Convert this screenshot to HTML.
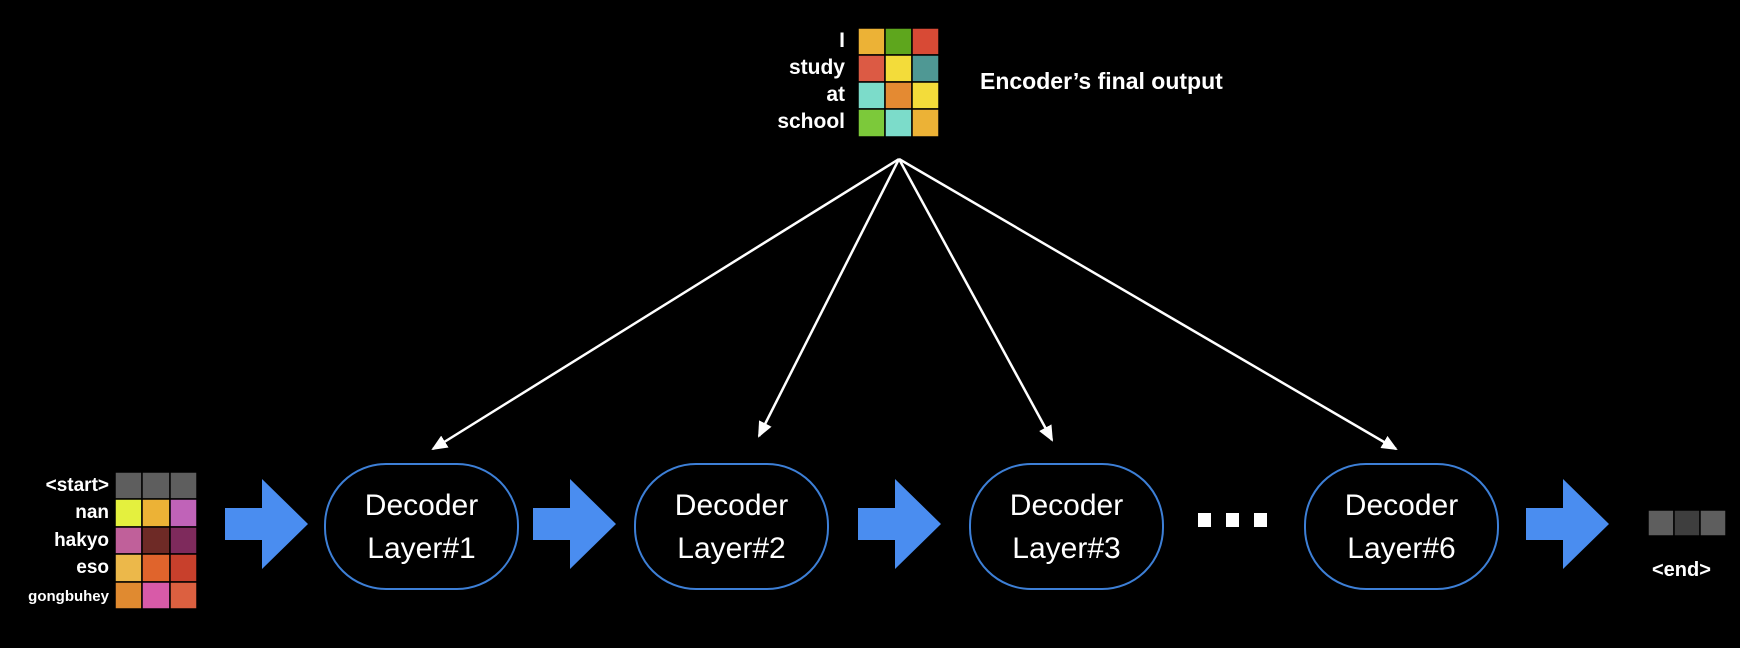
<!DOCTYPE html>
<html><head><style>
body{margin:0;background:#000;width:1740px;height:648px;overflow:hidden;position:relative;font-family:"Liberation Sans",sans-serif;color:#fff}
.l{position:absolute;font-weight:bold;text-align:right;white-space:nowrap}
.box{position:absolute;border:2.5px solid #3d7fd6;border-radius:62px;width:195px;height:127px;box-sizing:border-box;text-align:center;font-size:30px;line-height:43px;padding-top:19px}
</style></head><body>
<svg width="1740" height="648" style="position:absolute;left:0;top:0">
<defs><marker id="a" markerWidth="16" markerHeight="14" refX="14" refY="7" orient="auto" markerUnits="userSpaceOnUse"><path d="M0,0 L16,7 L0,14 z" fill="#fff"/></marker></defs>
<g stroke="#fff" stroke-width="2.5" marker-end="url(#a)">
<line x1="899" y1="159" x2="433" y2="449"/>
<line x1="899" y1="159" x2="759" y2="436"/>
<line x1="899" y1="159" x2="1052" y2="440"/>
<line x1="899" y1="159" x2="1396" y2="449"/>
</g>
<g fill="#4a8df0">
<path d="M225,508 H262 V479 L308,524 L262,569 V540 H225 Z"/>
<path d="M533,508 H570 V479 L616,524 L570,569 V540 H533 Z"/>
<path d="M858,508 H895 V479 L941,524 L895,569 V540 H858 Z"/>
<path d="M1526,508 H1563 V479 L1609,524 L1563,569 V540 H1526 Z"/>
</g>
<g fill="#fff"><rect x="1198" y="513" width="13" height="14"/><rect x="1226" y="513" width="13" height="14"/><rect x="1254" y="513" width="13" height="14"/></g>
<g stroke="#000" stroke-width="1.5">
<rect x="858" y="28" width="27" height="27" fill="#ecb236"/><rect x="885" y="28" width="27" height="27" fill="#5ea61d"/><rect x="912" y="28" width="27" height="27" fill="#d84a35"/>
<rect x="858" y="55" width="27" height="27" fill="#dc5a44"/><rect x="885" y="55" width="27" height="27" fill="#f3dc3a"/><rect x="912" y="55" width="27" height="27" fill="#4f9894"/>
<rect x="858" y="82" width="27" height="27" fill="#7cdcca"/><rect x="885" y="82" width="27" height="27" fill="#e48a32"/><rect x="912" y="82" width="27" height="27" fill="#f3dc3a"/>
<rect x="858" y="109" width="27" height="28" fill="#7cc93a"/><rect x="885" y="109" width="27" height="28" fill="#7cdcca"/><rect x="912" y="109" width="27" height="28" fill="#ecb236"/>

<rect x="115" y="472" width="27" height="27" fill="#5e5e5e"/><rect x="142" y="472" width="28" height="27" fill="#5e5e5e"/><rect x="170" y="472" width="27" height="27" fill="#5e5e5e"/>
<rect x="115" y="499" width="27" height="28" fill="#e4f03e"/><rect x="142" y="499" width="28" height="28" fill="#ecb236"/><rect x="170" y="499" width="27" height="28" fill="#c063b8"/>
<rect x="115" y="527" width="27" height="27" fill="#c0609a"/><rect x="142" y="527" width="28" height="27" fill="#6e2a26"/><rect x="170" y="527" width="27" height="27" fill="#7e2a5c"/>
<rect x="115" y="554" width="27" height="28" fill="#ecb84a"/><rect x="142" y="554" width="28" height="28" fill="#e0642c"/><rect x="170" y="554" width="27" height="28" fill="#c8402c"/>
<rect x="115" y="582" width="27" height="27" fill="#e08a30"/><rect x="142" y="582" width="28" height="27" fill="#d85aa8"/><rect x="170" y="582" width="27" height="27" fill="#dc6040"/>

<rect x="1648" y="510" width="26" height="26" fill="#5e5e5e"/><rect x="1674" y="510" width="26" height="26" fill="#3e3e3e"/><rect x="1700" y="510" width="26" height="26" fill="#5e5e5e"/>
</g>
</svg>
<div class="l" style="right:895px;top:27px;font-size:21px;line-height:27px">I<br>study<br>at<br>school</div>
<div class="l" style="left:980px;top:68px;font-size:23px">Encoder’s final output</div>
<div class="l" style="right:1631px;top:472px;font-size:19px;line-height:27.4px">&lt;start&gt;<br>nan<br>hakyo<br>eso<br><span style="font-size:15px">gongbuhey</span></div>
<div class="box" style="left:324px;top:463px">Decoder<br>Layer#1</div>
<div class="box" style="left:634px;top:463px">Decoder<br>Layer#2</div>
<div class="box" style="left:969px;top:463px">Decoder<br>Layer#3</div>
<div class="box" style="left:1304px;top:463px">Decoder<br>Layer#6</div>
<div class="l" style="left:1652px;top:559px;font-size:20px">&lt;end&gt;</div>
</body></html>
